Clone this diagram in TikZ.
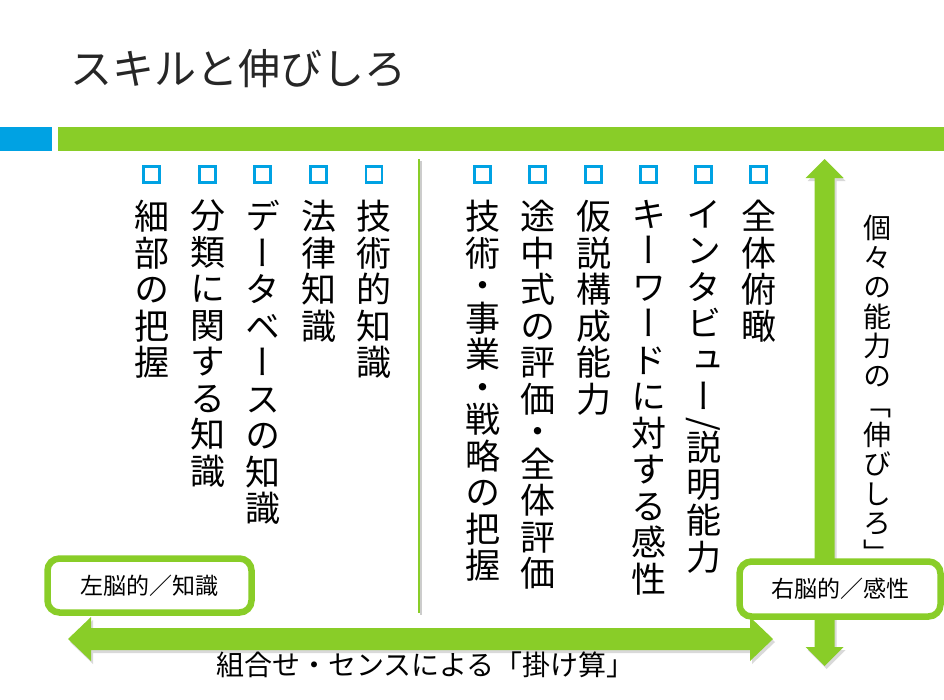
\documentclass[tikz,border=0pt]{standalone}
\usepackage{fontspec}
\setmainfont{Noto Sans CJK JP}
\newfontfamily\vjp[RawFeature=+vert]{Noto Sans CJK JP}
\usetikzlibrary{shadows}

\definecolor{skillgreen}{RGB}{137,205,40}
\definecolor{skillblue}{RGB}{0,162,227}
\definecolor{titlegray}{RGB}{38,38,38}

\tikzset{
  bullet/.style={draw=skillblue, line width=2.2pt},
  column/.style={anchor=north, inner sep=0pt, align=center,
    font=\vjp\fontsize{35pt}{36.5pt}\selectfont},
  labelbox/.style={draw=skillgreen, line width=6.5pt, rounded corners=12pt,
    fill=white, inner sep=0pt, font=\fontsize{23pt}{26pt}\selectfont},
  bigarrow/.style={fill=skillgreen,
    drop shadow={shadow xshift=2pt, shadow yshift=-3pt, opacity=0.3}}
}

\begin{document}
\begin{tikzpicture}[x=1pt, y=-1pt]
    \useasboundingbox (0,0) rectangle (944,699);

    % Title and the bar under it
    \node[anchor=west, inner sep=0pt, text=titlegray,
      font=\fontsize{42pt}{48pt}\selectfont] (title) at (70,69) {スキルと伸びしろ};
    \fill[skillblue] (0,127) rectangle (52,151);
    \fill[skillgreen] (58,127) rectangle (944,151);

    % Bullets
    \draw[bullet] (143.5,166.5) rectangle (159.5,182.5);
    \draw[bullet] (199.5,166.5) rectangle (215.5,182.5);
    \draw[bullet] (254.5,166.5) rectangle (270.5,182.5);
    \draw[bullet] (310.5,166.5) rectangle (326.5,182.5);
    \draw[bullet] (366,166.5) rectangle (382,182.5);
    \draw[bullet] (474.5,166.5) rectangle (490.5,182.5);
    \draw[bullet] (529.5,166.5) rectangle (545.5,182.5);
    \draw[bullet] (585.5,166.5) rectangle (601.5,182.5);
    \draw[bullet] (640.5,166.5) rectangle (656.5,182.5);
    \draw[bullet] (695.5,166.5) rectangle (711.5,182.5);
    \draw[bullet] (750.5,166.5) rectangle (766.5,182.5);

    % Left group (knowledge)
    \node[column] (detail) at (151.5,200) {細\\部\\の\\把\\握};
    \node[column] (classify) at (207.5,200) {分\\類\\に\\関\\す\\る\\知\\識};
    \node[column] (database) at (262.5,200) {デ\\ー\\タ\\ベ\\ー\\ス\\の\\知\\識};
    \node[column] (law) at (318.5,200) {法\\律\\知\\識};
    \node[column] (technique) at (374,200) {技\\術\\的\\知\\識};

    % Divider
    \draw[black!20, line width=2.5pt] (421,161) -- (421,615);
    \draw[skillgreen, line width=2.5pt] (419,159) -- (419,613);

    % Right group (sense)
    \node[column] (strategy) at (482.5,200) {技\\術\\[-4pt]・\\[-4pt]事\\業\\[-4pt]・\\[-4pt]戦\\略\\の\\把\\握};
    \node[column] (evaluate) at (537.5,200) {途\\中\\式\\の\\評\\価\\[-4pt]・\\[-4pt]全\\体\\評\\価};
    \node[column] (hypothesis) at (593.5,200) {仮\\説\\構\\成\\能\\力};
    \node[column] (keyword) at (648.5,200) {キ\\ー\\ワ\\ー\\ド\\に\\対\\す\\る\\感\\性};
    \node[column] (interview) at (703.5,200) {イ\\ン\\タ\\ビ\\ュ\\ー\\[-11pt]\rotatebox[origin=c]{-90}{/}\\[-11pt]説\\明\\能\\力};
    \node[column] (overview) at (758.5,200) {全\\体\\俯\\瞰};

    % Arrows
    \fill[bigarrow] (68,639) -- (91,617) -- (91,628) -- (750,628) -- (750,617)
      -- (773,639) -- (750,661) -- (750,650) -- (91,650) -- (91,661) -- cycle;
    \fill[bigarrow] (824.5,159) -- (843.5,178) -- (834.5,178) -- (834.5,647)
      -- (843.5,647) -- (824.5,666) -- (805.5,647) -- (814.5,647) -- (814.5,178)
      -- (805.5,178) -- cycle;

    % Labels on the axes
    \node[column, font=\vjp\fontsize{28pt}{29.5pt}\selectfont] (growth) at (877,215)
      {個\\々\\の\\能\\力\\の\\﹁\\伸\\び\\し\\ろ\\﹂};
    \node[labelbox, minimum width=204pt, minimum height=54pt] (leftbrain)
      at (149.5,585.5) {左脳的／知識};
    \node[labelbox, minimum width=201pt, minimum height=55pt] (rightbrain)
      at (840,589) {右脳的／感性};
    \node[inner sep=0pt, font=\fontsize{28pt}{32pt}\selectfont] (product)
      at (425.5,665) {組合せ・センスによる「掛け算」};

\end{tikzpicture}
\end{document}
